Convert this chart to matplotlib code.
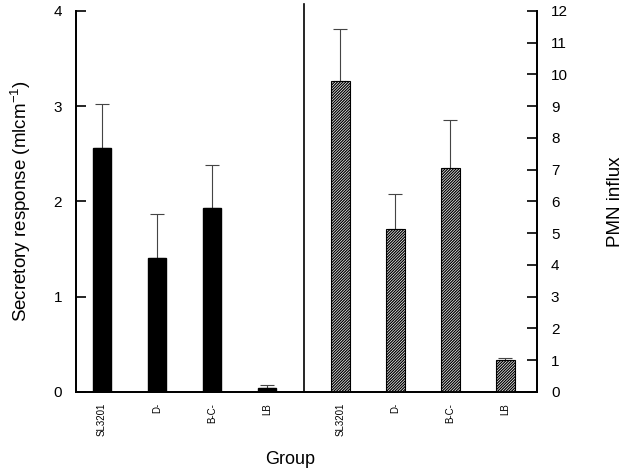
import numpy as np
import matplotlib
matplotlib.use("Agg")
import matplotlib.pyplot as plt

plt.rcParams['font.family'] = ['Liberation Sans', 'DejaVu Sans']
plt.rcParams['hatch.linewidth'] = 0.9

groups = ['SL3201', 'D-', 'B-C-', 'LB']
secretory = [2.56, 1.41, 1.93, 0.04]
secretory_err = [0.46, 0.46, 0.45, 0.03]
pmn = [9.8, 5.13, 7.06, 1.02]
pmn_err = [1.63, 1.10, 1.52, 0.06]

fig = plt.figure(figsize=(6.25, 4.74), dpi=100)
ax = fig.add_axes([0.1216, 0.173, 0.7376, 0.804])
ax2 = ax.twinx()

xl = np.arange(len(groups)) + 1.0
xr = xl + 4.33
w = 0.345

ax.bar(xl, secretory, w, color='black', edgecolor='black', zorder=2)
ax.errorbar(xl, secretory, yerr=[np.zeros(4), secretory_err], fmt='none',
            ecolor='#444444', elinewidth=0.8, capsize=5, capthick=0.8, zorder=1)

ax2.bar(xr, pmn, w, color='white', edgecolor='black', hatch='/' * 12,
        linewidth=0.8, zorder=2)
ax2.errorbar(xr, pmn, yerr=[np.zeros(4), pmn_err], fmt='none',
             ecolor='#444444', elinewidth=0.8, capsize=5, capthick=0.8, zorder=1)

ax.axvline(4.67, ymin=0, ymax=1.018, color='black', lw=1.2, clip_on=False)

ax.set_xlim(0.527, 8.91)
ax.set_ylim(0, 4)
ax2.set_ylim(0, 12)
ax.set_yticks(range(0, 5))
ax2.set_yticks(range(0, 13))

ax.set_xticks(list(xl) + list(xr))
ax.set_xticklabels(groups + groups, rotation=90, fontsize=7)
ax.tick_params(axis='x', length=0, pad=8)
ax.tick_params(axis='y', direction='in', length=7, width=1.2, labelsize=11, pad=10)
ax2.tick_params(axis='y', direction='in', length=7, width=1.2, labelsize=11, pad=10)

for a in (ax, ax2):
    a.spines['top'].set_visible(False)
    for s in ('left', 'right', 'bottom'):
        a.spines[s].set_linewidth(1.3)

ax.set_ylabel('Secretory response (mlcm$^{\\mathregular{-1}}$)', fontsize=13.5, labelpad=15)
ax2.set_ylabel('PMN influx', fontsize=13.5, labelpad=28)
fig.text(290 / 625, 1 - 460 / 474, 'Group', fontsize=13, ha='center', va='center')

fig.savefig('out.png', dpi=100)
